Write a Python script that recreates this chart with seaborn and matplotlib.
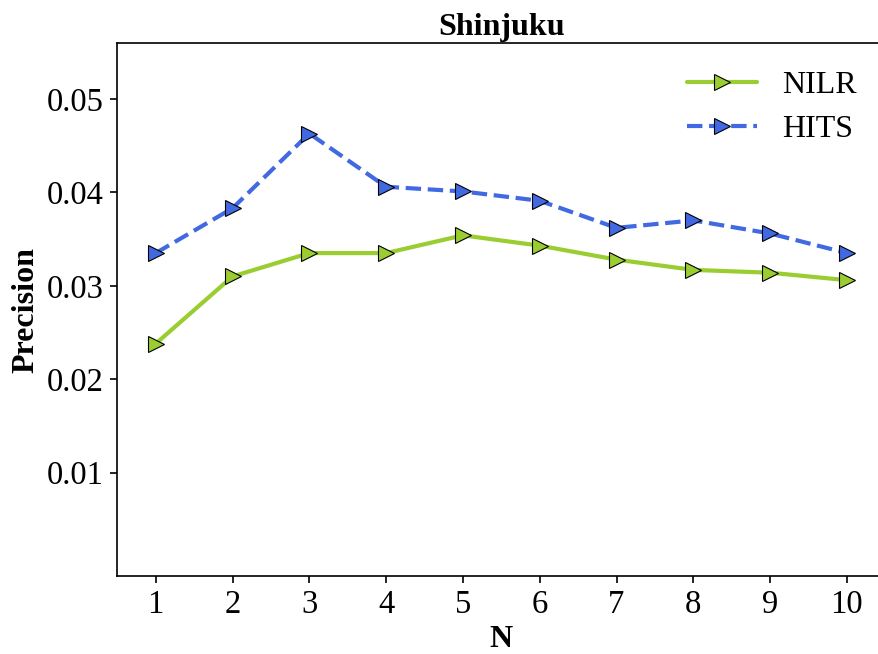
import matplotlib
matplotlib.use("Agg")
import matplotlib.pyplot as plt
import seaborn as sns
import pandas as pd

n_values = [1, 2, 3, 4, 5, 6, 7, 8, 9, 10]
nilr_precision = [0.0238, 0.0310, 0.0335, 0.0335, 0.0354, 0.0343, 0.0328, 0.0317, 0.0314, 0.0306]
hits_precision = [0.0335, 0.0383, 0.0463, 0.0406, 0.0401, 0.0391, 0.0362, 0.0370, 0.0356, 0.0335]
y_ticks = [0.01, 0.02, 0.03, 0.04, 0.05]

sns.set_style("ticks")
plt.rcParams["font.family"] = ["Liberation Serif", "DejaVu Serif"]
plt.rcParams["text.color"] = "black"
plt.rcParams["axes.labelcolor"] = "black"
plt.rcParams["axes.titlecolor"] = "black"

df = pd.DataFrame({
    "N": n_values * 2,
    "Precision": nilr_precision + hits_precision,
    "Method": ["NILR"] * len(n_values) + ["HITS"] * len(n_values),
})

fig = plt.figure(figsize=(8.79, 6.54), dpi=100)
ax = fig.add_axes([117.3 / 879, 1 - 576 / 654, 768 / 879, (576 - 43.3) / 654])

styles = {
    "NILR": dict(color="#9ACD32", linestyle="-"),
    "HITS": dict(color="#4169E1", linestyle="--"),
}
for method in ["NILR", "HITS"]:
    sns.lineplot(
        data=df[df["Method"] == method], x="N", y="Precision", ax=ax,
        color=styles[method]["color"], linestyle=styles[method]["linestyle"],
        linewidth=3, marker=">", markersize=12, markeredgecolor="black",
        markeredgewidth=0.8, label=method,
    )

ax.set_xlim(0.5, 10.5)
ax.set_ylim(-0.00107, 0.05596)
ax.set_xticks(n_values)
ax.set_yticks(y_ticks)
ax.set_yticklabels([f"{t:.2f}" for t in y_ticks])
ax.tick_params(axis="both", labelsize=23.5, length=5, width=1.2, direction="out",
               colors="black", pad=5)
for side in ["left", "bottom", "top", "right"]:
    ax.spines[side].set_visible(True)
    ax.spines[side].set_linewidth(1.2)
    ax.spines[side].set_color("black")

ax.set_xlabel("N", fontsize=23, fontweight="bold", labelpad=3)
ax.set_ylabel("Precision", fontsize=23, fontweight="bold", labelpad=4)
ax.set_title("Shinjuku", fontsize=23, fontweight="bold", pad=6)

ax.legend(
    loc="upper right", bbox_to_anchor=(870 / 879, 1 - 58 / 654),
    bbox_transform=fig.transFigure, frameon=False, fontsize=23,
    handlelength=2.2, handletextpad=0.8, labelspacing=0.45, borderaxespad=0,
)

fig.savefig("out.png", dpi=100)
